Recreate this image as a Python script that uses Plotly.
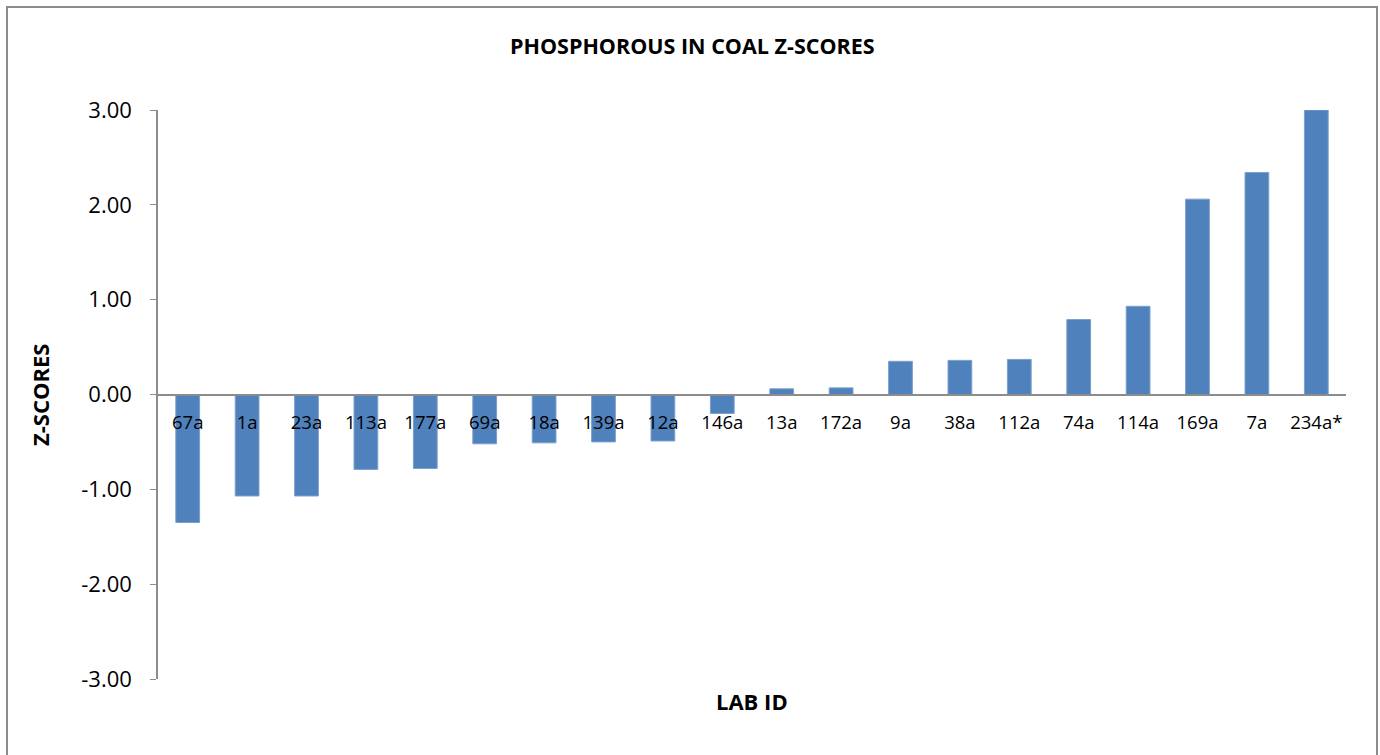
import plotly.graph_objects as go

labs = ["67a", "1a", "23a", "113a", "177a", "69a", "18a", "139a", "12a", "146a",
        "13a", "172a", "9a", "38a", "112a", "74a", "114a", "169a", "7a", "234a*"]
zscores = [-1.35, -1.07, -1.07, -0.79, -0.78, -0.52, -0.51, -0.50, -0.49, -0.20,
           0.06, 0.07, 0.35, 0.36, 0.37, 0.79, 0.93, 2.06, 2.34, 3.00]
ytick_vals = [-3, -2, -1, 0, 1, 2, 3]
ytick_text = ["-3.00", "-2.00", "-1.00", "0.00", "1.00", "2.00", "3.00"]

W, H = 1380, 755
L, R, T, B = 158, 34, 110, 76
pw, ph = W - L - R, H - T - B

font = "Open Sans, Liberation Sans, sans-serif"

fig = go.Figure(go.Bar(
    x=labs, y=zscores,
    marker=dict(color="#4F81BD", line=dict(color="#7BA0CD", width=1)),
    width=0.40,
))

def px_x(p):
    return (p - L) / pw

def px_y(p):
    return (H - B - p) / ph

fig.update_layout(
    width=W, height=H,
    margin=dict(l=L, r=R, t=T, b=B),
    plot_bgcolor="white", paper_bgcolor="white",
    showlegend=False,
    font=dict(family=font, color="black"),
    xaxis=dict(
        type="category", anchor="free", position=0.5,
        showline=True, linecolor="#8C8C8C", linewidth=2,
        ticks="", showgrid=False, zeroline=False,
        tickfont=dict(size=18.5, family=font), ticklabelstandoff=11,
    ),
    yaxis=dict(
        range=[-3, 3], tickvals=ytick_vals, ticktext=ytick_text,
        showline=True, linecolor="#8C8C8C", linewidth=1.5,
        ticks="outside", ticklen=6, tickcolor="#8C8C8C",
        showgrid=False, zeroline=False,
        tickfont=dict(size=22, family=font), ticklabelstandoff=14,
    ),
    shapes=[dict(type="rect", xref="paper", yref="paper",
                 x0=px_x(7), x1=px_x(1377), y0=px_y(770), y1=px_y(7),
                 line=dict(color="#8C8C8C", width=2), fillcolor="rgba(0,0,0,0)")],
    annotations=[
        dict(text="<b>PHOSPHOROUS IN COAL Z-SCORES</b>", xref="paper", yref="paper",
             x=px_x(692), y=px_y(45), xanchor="center", yanchor="middle",
             showarrow=False, font=dict(size=21.5, family=font)),
        dict(text="<b>LAB ID</b>", xref="paper", yref="paper",
             x=px_x(752), y=px_y(701), xanchor="center", yanchor="middle",
             showarrow=False, font=dict(size=22, family=font)),
        dict(text="<b>Z-SCORES</b>", xref="paper", yref="paper", textangle=-90,
             x=px_x(40), y=px_y(395), xanchor="center", yanchor="middle",
             showarrow=False, font=dict(size=22, family=font)),
    ],
)

fig.write_html("out.html", config={"displayModeBar": False},
               post_script="document.body.style.margin='0';document.body.style.overflow='hidden';")
